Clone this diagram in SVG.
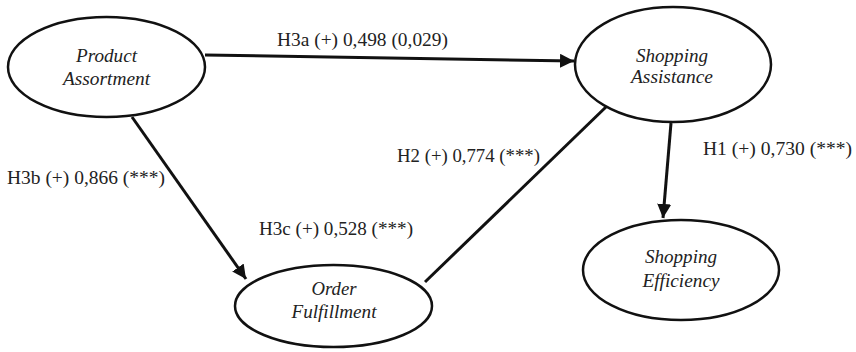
<svg xmlns="http://www.w3.org/2000/svg" width="856" height="352" viewBox="0 0 856 352">
<style>
.node ellipse{fill:#fff;stroke:#111;stroke-width:2.5}
.node text{font-family:"Liberation Serif","Times New Roman","DejaVu Serif",Times,serif;font-style:italic;font-size:18px;fill:#222;text-anchor:middle}
.edge{stroke:#111;stroke-width:3;fill:none}
.lbl{font-family:"Liberation Serif","Times New Roman","DejaVu Serif",Times,serif;font-size:18px;fill:#222}
</style>
<defs>
<marker id="arr" markerUnits="userSpaceOnUse" markerWidth="16" markerHeight="14" refX="14" refY="7" orient="auto">
<path d="M0,0 L14,7 L0,14 Z" fill="#111"/>
</marker>
</defs>
<g id="connectors">
<line class="edge" x1="205" y1="55" x2="574" y2="61" marker-end="url(#arr)"/>
<line class="edge" x1="132" y1="117" x2="246" y2="279" marker-end="url(#arr)"/>
<line class="edge" x1="607" y1="106" x2="425" y2="282"/>
<line class="edge" x1="671" y1="123" x2="663" y2="218" marker-end="url(#arr)"/>
<text class="lbl" x="277" y="46" textLength="171" lengthAdjust="spacingAndGlyphs">H3a (+) 0,498 (0,029)</text>
<text class="lbl" x="7" y="184" textLength="158" lengthAdjust="spacingAndGlyphs">H3b (+) 0,866 (***)</text>
<text class="lbl" x="259" y="235" textLength="154" lengthAdjust="spacingAndGlyphs">H3c (+) 0,528 (***)</text>
<text class="lbl" x="397" y="162" textLength="143" lengthAdjust="spacingAndGlyphs">H2 (+) 0,774 (***)</text>
<text class="lbl" x="703" y="155" textLength="149" lengthAdjust="spacingAndGlyphs">H1 (+) 0,730 (***)</text>
</g>
<g id="product-assortment" class="node">
<ellipse cx="106.5" cy="67" rx="98.5" ry="50"/>
<text x="106.5" y="62" textLength="61" lengthAdjust="spacingAndGlyphs">Product</text>
<text x="106.5" y="85" textLength="87" lengthAdjust="spacingAndGlyphs">Assortment</text>
</g>
<g id="shopping-assistance" class="node">
<ellipse cx="673" cy="64.5" rx="98" ry="57.5"/>
<text x="672" y="62" textLength="72" lengthAdjust="spacingAndGlyphs">Shopping</text>
<text x="672" y="83" textLength="82" lengthAdjust="spacingAndGlyphs">Assistance</text>
</g>
<g id="order-fulfillment" class="node">
<ellipse cx="333.5" cy="306" rx="98.5" ry="41"/>
<text x="334" y="295" textLength="45" lengthAdjust="spacingAndGlyphs">Order</text>
<text x="334" y="318" textLength="85" lengthAdjust="spacingAndGlyphs">Fulfillment</text>
</g>
<g id="shopping-efficiency" class="node">
<ellipse cx="681" cy="270" rx="98" ry="50"/>
<text x="681" y="263" textLength="72" lengthAdjust="spacingAndGlyphs">Shopping</text>
<text x="681" y="287" textLength="77" lengthAdjust="spacingAndGlyphs">Efficiency</text>
</g>
</svg>
